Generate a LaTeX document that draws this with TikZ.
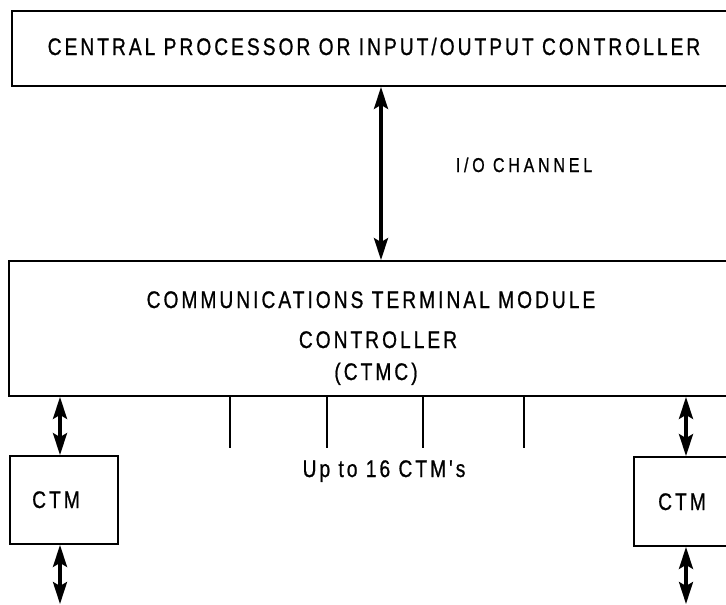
\documentclass[tikz,border=0pt]{standalone}
\usepackage{fontspec}
\newfontfamily\diafont[FakeStretch=0.8,FakeBold=0.8,LetterSpace=12.5]{Liberation Sans}
\newfontfamily\chanfont[FakeStretch=0.8,FakeBold=0.8,LetterSpace=19]{Liberation Sans}
\usetikzlibrary{arrows.meta}

\tikzset{
	unitbox/.style = {draw, line width=1.8pt, inner sep=0pt},
	txt/.style = {font=\diafont\fontsize{24}{28}\selectfont, inner sep=0pt, anchor=base},
	smalltxt/.style = {font=\chanfont\fontsize{20}{24}\selectfont, inner sep=0pt, anchor=base},
	dbl/.style = {line width=3.2pt, {Stealth[length=22pt,width=14pt,inset=4pt]}-{Stealth[length=22pt,width=14pt,inset=4pt]}},
	tickline/.style = {line width=1.8pt}
}

\begin{document}
\begin{tikzpicture}[x=1pt, y=-1pt]
	\useasboundingbox (0,0) rectangle (726,605);
	% boxes
	\node [unitbox, minimum width=728pt, minimum height=75pt] (cpu) at (376,48.5) {};
	\node [unitbox, minimum width=731pt, minimum height=135pt] (ctmc) at (374.5,328.5) {};
	\node [unitbox, minimum width=108pt, minimum height=88pt] (ctmL) at (64,500) {};
	\node [unitbox, minimum width=108pt, minimum height=89pt] (ctmR) at (688,501.5) {};
	% texts
	\node [txt] (cpuText) at (374,55) {CENTRAL PROCESSOR OR INPUT/OUTPUT CONTROLLER};
	\node [smalltxt] (chanText) at (524,172) {I/O CHANNEL};
	\node [txt] (ctmcA) at (371,308) {COMMUNICATIONS TERMINAL MODULE};
	\node [txt] (ctmcB) at (378,348) {CONTROLLER};
	\node [txt] (ctmcC) at (376,380) {(CTMC)};
	\node [txt] (upto) at (384,477) {Up to 16 CTM's};
	\node [txt] (ctmLText) at (56,508) {CTM};
	\node [txt] (ctmRText) at (682,510) {CTM};
	% connectors
	\coordinate (chan) at (381,0);
	\coordinate (lft) at (60,0);
	\coordinate (rgt) at (686,0);
	\coordinate (lftEnd) at (60,604);
	\coordinate (rgtEnd) at (686,604);
	\draw [dbl] (cpu.south -| chan) -- (ctmc.north -| chan);
	\draw [dbl] (ctmc.south -| lft) -- (ctmL.north -| lft);
	\draw [dbl] (ctmL.south -| lft) -- (lftEnd);
	\draw [dbl] (ctmc.south -| rgt) -- (ctmR.north -| rgt);
	\draw [dbl] (ctmR.south -| rgt) -- (rgtEnd);
	\foreach \x [count=\i] in {230,327,423,524} {
		\coordinate (tick\i) at (\x,448);
		\draw [tickline] (ctmc.south -| tick\i) -- (tick\i);
	}
\end{tikzpicture}
\end{document}
